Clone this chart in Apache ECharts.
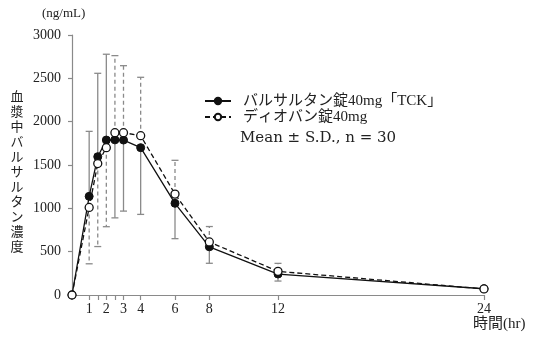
<!DOCTYPE html>
<html><head><meta charset="utf-8">
<script src="https://cdn.jsdelivr.net/npm/echarts@6/dist/echarts.min.js"></script>
<style>html,body{margin:0;padding:0;background:#fff}#c{width:542px;height:342px}</style>
</head><body><div id="c"></div>
<script>
// ---- data ----
const times = [0, 1, 1.5, 2, 2.5, 3, 4, 6, 8, 12, 24];
const tckMean = [0, 1138, 1596, 1788, 1790, 1788, 1700, 1058, 556, 242, 72];
const tckSD   = [0, 750, 962, 990, 900, 820, 770, 408, 190, 81, 0];
const diovanMean = [0, 1010, 1517, 1700, 1873, 1873, 1838, 1164, 612, 273, 70];
const diovanSD   = [0, 650, 958, 912, 889, 773, 674, 390, 178, 92, 0];
const seriesNames = ['バルサルタン錠40mg「TCK」', 'ディオバン錠40mg'];
const xTickValues = [1, 1.5, 2, 2.5, 3, 4, 6, 8, 12, 24];
const xLabelValues = [1, 2, 3, 4, 6, 8, 12, 24];
const yAxisTitle = '血漿中バルサルタン濃度';
const yUnit = '(ng/mL)';
const xUnit = '時間(hr)';
const noteText = 'Mean ± S.D., n = 30';

// ---- build ----
const serif = '"Liberation Serif","Noto Sans CJK JP",serif';
const txt = '#222';
const axisCol = '#8a8a8a';
const tckData = times.map((t, i) => [t, tckMean[i]]);
const dioData = times.map((t, i) => [t, diovanMean[i]]);
// SD bars point away from the other series (upper for the higher mean)
const tckErr = times.map((t, i) => [t, tckMean[i], tckSD[i], tckMean[i] >= diovanMean[i] ? 1 : -1]);
const dioErr = times.map((t, i) => [t, diovanMean[i], diovanSD[i], diovanMean[i] > tckMean[i] ? 1 : -1]);

function errRender(dashed) {
  return function (params, api) {
    const x = api.value(0), m = api.value(1), sd = api.value(2), dir = api.value(3);
    if (!sd) return;
    const p0 = api.coord([x, m]);
    const p1 = api.coord([x, m + dir * sd]);
    return {
      type: 'group', children: [
        { type: 'line', shape: { x1: p0[0], y1: p0[1], x2: p1[0], y2: p1[1] },
          style: { stroke: axisCol, lineWidth: 1.3, lineDash: dashed ? [4, 3] : null, fill: null } },
        { type: 'line', shape: { x1: p1[0] - 3.5, y1: p1[1], x2: p1[0] + 3.5, y2: p1[1] },
          style: { stroke: axisCol, lineWidth: 1.3, fill: null } }
      ]
    };
  };
}

const chart = echarts.init(document.getElementById('c'), null, { renderer: 'canvas' });
chart.setOption({
  animation: false,
  backgroundColor: '#fff',
  grid: { left: 72, right: 58, top: 35, bottom: 47, containLabel: false, outerBoundsMode: 'none' },
  xAxis: {
    type: 'value', min: 0, max: 24,
    axisLine: { show: true, lineStyle: { color: axisCol, width: 1.2 } },
    axisTick: { show: true, length: 5, customValues: xTickValues, lineStyle: { color: axisCol, width: 1.2 } },
    axisLabel: { customValues: xLabelValues, color: txt, fontFamily: serif, fontSize: 14, margin: 7 },
    splitLine: { show: false }
  },
  yAxis: {
    type: 'value', min: 0, max: 3000, interval: 500,
    axisLine: { show: true, lineStyle: { color: axisCol, width: 1.2 } },
    axisTick: { show: true, length: 4, lineStyle: { color: axisCol, width: 1.2 } },
    axisLabel: { color: txt, fontFamily: serif, fontSize: 14, margin: 11, formatter: v => String(v) },
    splitLine: { show: false }
  },
  legend: {
    orient: 'vertical', left: 199, top: 88,
    itemWidth: 26, itemHeight: 8, itemGap: 0,
    data: seriesNames,
    textStyle: { color: txt, fontFamily: serif, fontSize: 15, lineHeight: 16, padding: [0, 0, 0, 7] }
  },
  graphic: [
    { type: 'text', x: 240, y: 138, style: { text: noteText, fill: txt, font: '15px "DejaVu Serif","Noto Sans CJK JP",serif', textVerticalAlign: 'middle' } },
    { type: 'text', x: 42, y: 14, style: { text: yUnit, fill: txt, font: '13px ' + serif, textVerticalAlign: 'middle' } },
    { type: 'text', x: 473, y: 324, style: { text: xUnit, fill: txt, font: '15px ' + serif, textVerticalAlign: 'middle' } },
    { type: 'text', x: 17, y: 89, style: { text: yAxisTitle.split('').join('\n'), fill: txt,
        font: '13px "Noto Sans CJK JP"', lineHeight: 15, textAlign: 'center', textVerticalAlign: 'top' } }
  ],
  series: [
    { type: 'custom', data: tckErr, renderItem: errRender(false), encode: { x: 0, y: 1 }, z: 1, silent: true },
    { type: 'custom', data: dioErr, renderItem: errRender(true), encode: { x: 0, y: 1 }, z: 1, silent: true },
    { name: seriesNames[0], type: 'line', data: tckData, z: 3,
      symbol: 'circle', symbolSize: 8,
      lineStyle: { color: '#111', width: 1.3 },
      itemStyle: { color: '#111', borderColor: '#111', borderWidth: 1 } },
    { name: seriesNames[1], type: 'line', data: dioData, z: 4,
      symbol: 'circle', symbolSize: 8,
      lineStyle: { color: '#111', width: 1.3, type: [5, 3] },
      itemStyle: { color: '#fff', borderColor: '#111', borderWidth: 1.3 } }
  ]
});
</script></body></html>
